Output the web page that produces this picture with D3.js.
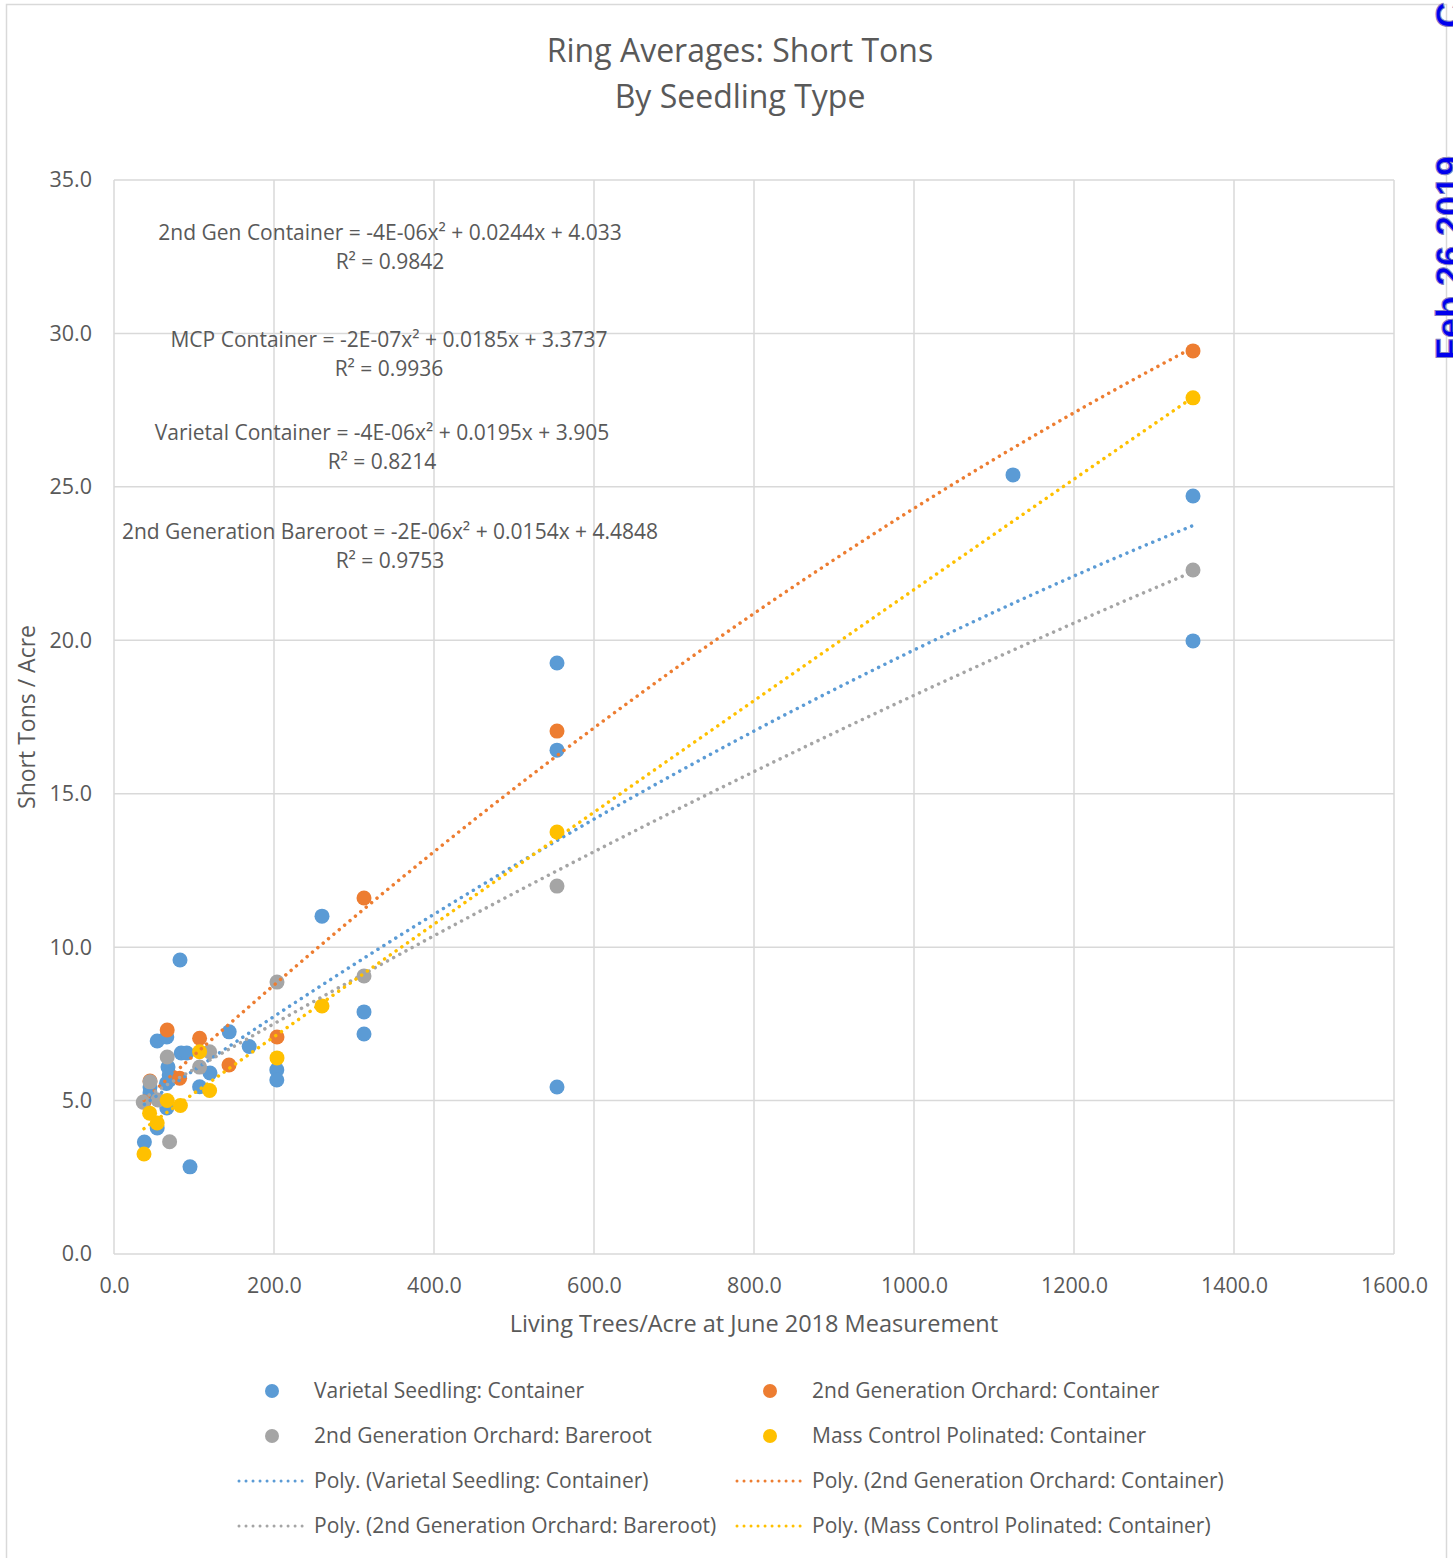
<!DOCTYPE html>
<html>
<head>
<meta charset="utf-8">
<script src="https://cdn.jsdelivr.net/npm/d3@7/dist/d3.min.js"></script>
<style>
  body { margin: 0; background: #fff; }
  text { font-family: "Open Sans", sans-serif; fill: #595959; }
</style>
</head>
<body>
<div id="vis"></div>
<script>

// ---- data ----
var seriesNames = [
  'Varietal Seedling: Container',
  '2nd Generation Orchard: Container',
  '2nd Generation Orchard: Bareroot',
  'Mass Control Polinated: Container'
];
var seriesColors = ['#5B9BD5', '#ED7D31', '#A5A5A5', '#FFC000'];

var varietalX = [54, 66, 84, 91, 67.5, 69, 120, 169, 144, 203.5, 203.5, 107, 65.5, 45, 45, 66, 54, 38, 95, 82.5, 260, 312.5, 312.5, 553.75, 553.75, 553.75, 1123.75, 1348.75, 1348.75];
var varietalY = [6.94, 7.07, 6.55, 6.55, 6.09, 5.83, 5.9, 6.76, 7.24, 6.0, 5.67, 5.45, 5.56, 5.44, 5.25, 4.76, 4.11, 3.65, 2.84, 9.58, 11.01, 7.89, 7.17, 19.26, 16.42, 5.44, 25.39, 24.70, 19.98];

var orchardContX = [37.5, 45, 66.5, 82, 107, 143.75, 203.75, 312.5, 553.75, 1348.75];
var orchardContY = [4.95, 5.64, 7.30, 5.73, 7.03, 6.16, 7.07, 11.60, 17.04, 29.43];

var bareX = [36.5, 45, 55, 66.5, 69.5, 107, 119.5, 203.75, 312.5, 553.75, 1348.75];
var bareY = [4.95, 5.61, 5.02, 6.42, 3.66, 6.09, 6.59, 8.86, 9.06, 11.99, 22.29];

var mcpX = [37.5, 44.5, 54, 66.5, 83, 107, 119.5, 203.75, 260, 553.75, 1348.75];
var mcpY = [3.26, 4.59, 4.27, 5.00, 4.84, 6.59, 5.33, 6.39, 8.08, 13.75, 27.90];

var xTicks = [0, 200, 400, 600, 800, 1000, 1200, 1400, 1600];
var yTicks = [0, 5, 10, 15, 20, 25, 30, 35];

var equationLines = [
  ['2nd Gen Container = -4E-06x² + 0.0244x + 4.033', 'R² = 0.9842'],
  ['MCP Container = -2E-07x² + 0.0185x + 3.3737', 'R² = 0.9936'],
  ['Varietal Container = -4E-06x² + 0.0195x + 3.905', 'R² = 0.8214'],
  ['2nd Generation Bareroot = -2E-06x² + 0.0154x + 4.4848', 'R² = 0.9753']
];

var titleLines = ['Ring Averages: Short Tons', 'By Seedling Type'];
var xTitle = 'Living Trees/Acre at June 2018 Measurement';
var yTitle = 'Short Tons / Acre';

// ---- layout ----
var width = 1453, height = 1558;
var plot = { left: 114, right: 1394, top: 180, bottom: 1254 };

var seriesX = [varietalX, orchardContX, bareX, mcpX];
var seriesY = [varietalY, orchardContY, bareY, mcpY];

var series = seriesNames.map(function(name, i) {
  return {
    name: name,
    color: seriesColors[i],
    points: seriesX[i].map(function(x, j) { return { x: x, y: seriesY[i][j] }; })
  };
});

var x = d3.scaleLinear().domain([0, 1600]).range([plot.left, plot.right]);
var y = d3.scaleLinear().domain([0, 35]).range([plot.bottom, plot.top]);

var svg = d3.select('#vis').append('svg')
  .attr('width', width)
  .attr('height', height);

svg.append('rect')
  .attr('x', 6.5).attr('y', 4.5)
  .attr('width', 1440).attr('height', 1560)
  .attr('fill', '#fff')
  .attr('stroke', '#D9D9D9')
  .attr('stroke-width', 1.5);

// gridlines
svg.append('g').selectAll('line')
  .data(yTicks).enter().append('line')
  .attr('x1', plot.left).attr('x2', plot.right)
  .attr('y1', function(d) { return y(d); })
  .attr('y2', function(d) { return y(d); })
  .attr('stroke', '#D9D9D9').attr('stroke-width', 1.5);

svg.append('g').selectAll('line')
  .data(xTicks).enter().append('line')
  .attr('y1', plot.top).attr('y2', plot.bottom)
  .attr('x1', function(d) { return x(d); })
  .attr('x2', function(d) { return x(d); })
  .attr('stroke', '#D9D9D9').attr('stroke-width', 1.5);

// axes (labels only, Excel style)
var xAxis = svg.append('g')
  .attr('transform', 'translate(0,' + plot.bottom + ')')
  .call(d3.axisBottom(x).tickValues(xTicks).tickSize(0).tickPadding(24)
    .tickFormat(function(d) { return d.toFixed(1); }));
var yAxis = svg.append('g')
  .attr('transform', 'translate(' + plot.left + ',0)')
  .call(d3.axisLeft(y).tickValues(yTicks).tickSize(0).tickPadding(22)
    .tickFormat(function(d) { return d.toFixed(1); }));
[xAxis, yAxis].forEach(function(a) {
  a.select('.domain').remove();
  a.selectAll('text')
    .attr('fill', '#595959')
    .style('font-family', '"Open Sans", sans-serif')
    .style('font-size', '21.5px');
});

// points, series order as in Excel
series.forEach(function(s) {
  svg.append('g').selectAll('circle')
    .data(s.points).enter().append('circle')
    .attr('cx', function(d) { return x(d.x); })
    .attr('cy', function(d) { return y(d.y); })
    .attr('r', 7.5)
    .attr('fill', s.color);
});

// 2nd order polynomial least squares, like Excel's poly trendline
function polyFit2(pts) {
  var s = [0, 0, 0, 0, 0], t = [0, 0, 0];
  pts.forEach(function(p) {
    var xp = 1;
    for (var k = 0; k < 5; k++) { s[k] += xp; if (k < 3) t[k] += xp * p.y; xp *= p.x; }
  });
  var m = [[s[0], s[1], s[2], t[0]], [s[1], s[2], s[3], t[1]], [s[2], s[3], s[4], t[2]]];
  for (var i = 0; i < 3; i++) {
    for (var r = i + 1; r < 3; r++) {
      var f = m[r][i] / m[i][i];
      for (var c = i; c < 4; c++) m[r][c] -= f * m[i][c];
    }
  }
  var b = [0, 0, 0];
  for (var i2 = 2; i2 >= 0; i2--) {
    var v = m[i2][3];
    for (var c2 = i2 + 1; c2 < 3; c2++) v -= m[i2][c2] * b[c2];
    b[i2] = v / m[i2][i2];
  }
  return b;
}

var trendLine = d3.line()
  .x(function(d) { return x(d[0]); })
  .y(function(d) { return y(d[1]); });

series.forEach(function(s) {
  var b = polyFit2(s.points);
  var ext = d3.extent(s.points, function(d) { return d.x; });
  var pts = d3.range(0, 101).map(function(i) {
    var xv = ext[0] + (ext[1] - ext[0]) * i / 100;
    return [xv, b[0] + b[1] * xv + b[2] * xv * xv];
  });
  svg.append('path')
    .attr('d', trendLine(pts))
    .attr('fill', 'none')
    .attr('stroke', s.color)
    .attr('stroke-width', 3.5)
    .attr('stroke-linecap', 'round')
    .attr('stroke-dasharray', '0.01 7');
});

// equation labels
var eqY = [233, 340, 433, 532];
var eqX = [390, 389, 382, 390];
equationLines.forEach(function(lines, i) {
  lines.forEach(function(t, j) {
    svg.append('text')
      .attr('x', eqX[i]).attr('y', eqY[i] + j * 29)
      .attr('dy', '0.35em')
      .attr('text-anchor', 'middle')
      .style('font-size', '21px')
      .text(t);
  });
});

// titles
titleLines.forEach(function(t, i) {
  svg.append('text')
    .attr('x', 740).attr('y', 51 + i * 46)
    .attr('dy', '0.35em')
    .attr('text-anchor', 'middle')
    .style('font-size', '32px')
    .text(t);
});

svg.append('text')
  .attr('x', (plot.left + plot.right) / 2).attr('y', 1324)
  .attr('dy', '0.35em')
  .attr('text-anchor', 'middle')
  .style('font-size', '23.5px')
  .text(xTitle);

svg.append('text')
  .attr('transform', 'translate(27,' + (plot.top + plot.bottom) / 2 + ') rotate(-90)')
  .attr('dy', '0.35em')
  .attr('text-anchor', 'middle')
  .style('font-size', '23px')
  .text(yTitle);

// legend
var legendRows = [1391, 1436, 1481, 1526];
var legendCols = [237, 735];
var legendItems = [];
series.forEach(function(s, i) { legendItems.push({ kind: 'dot', s: s, idx: i }); });
series.forEach(function(s, i) { legendItems.push({ kind: 'line', s: s, idx: i + 4 }); });

legendItems.forEach(function(it) {
  var row = Math.floor(it.idx / 2), col = it.idx % 2;
  var lx = legendCols[col], ly = legendRows[row];
  var g = svg.append('g').attr('transform', 'translate(' + lx + ',' + ly + ')');
  if (it.kind === 'dot') {
    g.append('circle').attr('cx', 35).attr('cy', 0).attr('r', 7).attr('fill', it.s.color);
  } else {
    g.append('line').attr('x1', 2).attr('x2', 70).attr('y1', 0).attr('y2', 0)
      .attr('stroke', it.s.color).attr('stroke-width', 3)
      .attr('stroke-linecap', 'round').attr('stroke-dasharray', '0.01 7');
  }
  g.append('text')
    .attr('x', 77).attr('y', 0)
    .attr('dy', '0.35em')
    .style('font-size', '21px')
    .text(it.kind === 'dot' ? it.s.name : 'Poly. (' + it.s.name + ')');
});

// date stamp on the right edge, cut off by the edge as in the original
svg.append('text')
  .attr('transform', 'translate(1462,360) rotate(-90)')
  .attr('stroke', '#8080C0')
  .attr('stroke-width', 1)
  .style('fill', '#0000EE')
  .style('font-family', '"Liberation Sans", Arial, sans-serif')
  .style('font-weight', 'bold')
  .style('font-size', '36px')
  .text('Feb 26 2019');

svg.append('text')
  .attr('transform', 'translate(1462,28) rotate(-90)')
  .attr('stroke', '#8080C0')
  .attr('stroke-width', 1)
  .style('fill', '#0000EE')
  .style('font-family', '"Liberation Sans", Arial, sans-serif')
  .style('font-weight', 'bold')
  .style('font-size', '36px')
  .text('Created');

</script>
</body>
</html>
